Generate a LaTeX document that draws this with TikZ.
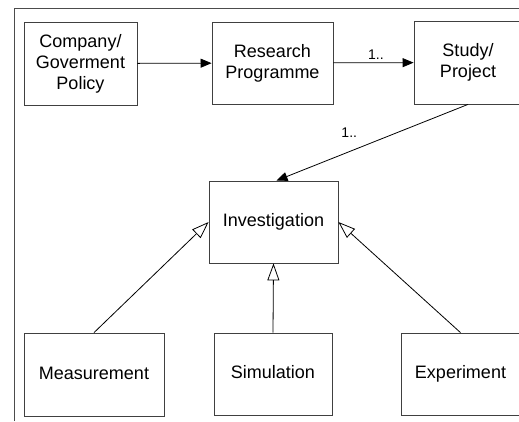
\documentclass[tikz,border=0pt]{standalone}
\usepackage{fontspec}
\setmainfont{Liberation Sans}
\usetikzlibrary{arrows.meta,positioning}

\begin{document}
\begin{tikzpicture}[x=1pt,y=-1pt,line width=0.8pt,
    box/.style={draw=black!75,align=center,inner sep=0pt,font=\fontsize{18}{21}\selectfont},
    single/.style={box,text height=13pt,text depth=4pt},
    assoc/.style={-{Triangle[length=11pt,width=9pt]}},
    inherit/.style={-{Triangle[open,length=17pt,width=12pt]}},
    mult/.style={font=\fontsize{14}{16}\selectfont,inner sep=2pt}]
  \clip (0,0) rectangle (519,421);

  % the frame
  \draw[black!70] (14,421) |- (519,8);

  % the top row
  \node[box,minimum width=113pt,minimum height=83pt] (policy) at (80.5,63.5) {Company/\\Goverment\\Policy};
  \node[box,minimum width=121pt,minimum height=82pt] (programme) at (272.5,63) {Research\\Programme};
  \node[box,minimum width=108pt,minimum height=83pt] (study) at (468,62.5) {Study/\\Project};

  % the middle box
  \node[single,minimum width=129pt,minimum height=82pt] (investigation) at (273.5,222) {Investigation};

  % the bottom row
  \node[single,minimum width=140pt,minimum height=83pt] (measurement) at (94,374.5) {Measurement};
  \node[single,minimum width=118pt,minimum height=82pt] (simulation) at (273,374) {Simulation};
  \node[single,minimum width=119pt,minimum height=82pt] (experiment) at (460.5,374) {Experiment};

  % the associations
  \draw[assoc] (policy) -- (programme);
  \draw[assoc] (programme) -- node[mult,above=1pt,pos=0.53] {1..} (study);
  \draw[assoc] (study.south) -- node[mult,above=12pt,pos=0.62] {1..} ([xshift=3pt]investigation.north);

  % the generalisations
  \draw[inherit] (measurement.north) -- (investigation.west);
  \draw[inherit] (simulation.north) -- (investigation.south);
  \draw[inherit] (experiment.north) -- (investigation.east);
\end{tikzpicture}
\end{document}
